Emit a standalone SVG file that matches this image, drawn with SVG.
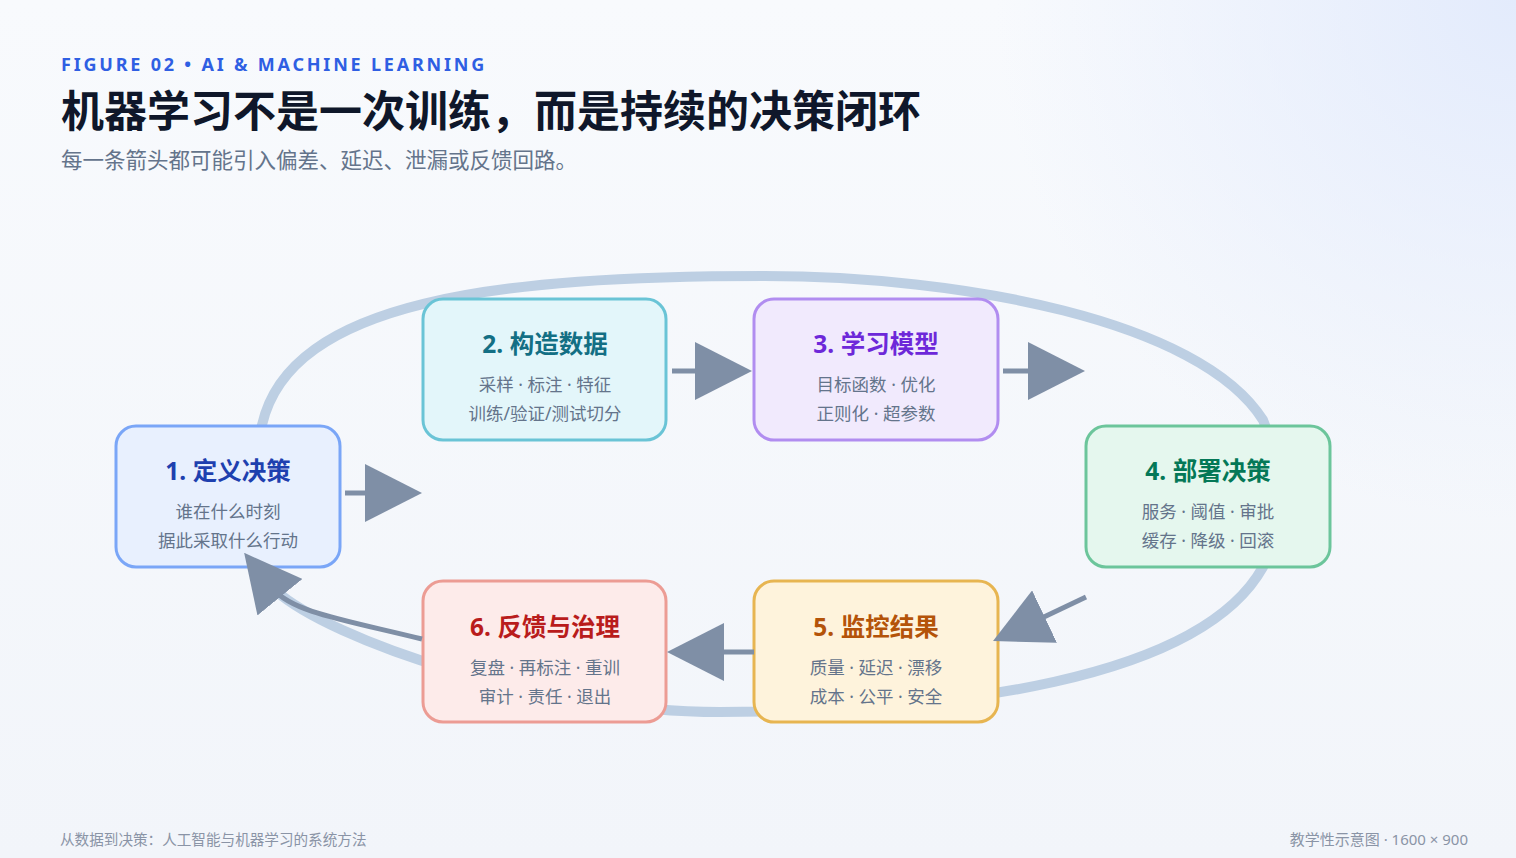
<svg xmlns="http://www.w3.org/2000/svg" width="1516" height="858" viewBox="0 0 1516 858">
  <defs>
    <linearGradient id="bg" x1="0" y1="0" x2="0" y2="1">
      <stop offset="0" stop-color="#f8fafd"/>
      <stop offset="1" stop-color="#f2f5fa"/>
    </linearGradient>
    <radialGradient id="glow" cx="1516" cy="0" r="520" gradientUnits="userSpaceOnUse">
      <stop offset="0" stop-color="#e3ebfc"/>
      <stop offset="1" stop-color="#e3ebfc" stop-opacity="0"/>
    </radialGradient>
    <marker id="ah" viewBox="0 0 57 58" refX="10" refY="29" markerWidth="57" markerHeight="58" markerUnits="userSpaceOnUse" orient="auto">
      <path d="M0,0 L57,29 L0,58 Z" fill="#7f8fa6"/>
    </marker>
    <style>
      .t { font-family: "Noto Sans", "Noto Sans CJK SC", sans-serif; }
      .cjk { font-family: "Noto Sans CJK SC", "Noto Sans", sans-serif; }
      .box { stroke-width: 3; }
      .title { font-size: 24.5px; font-weight: 700; text-anchor: middle; }
      .sub { font-size: 17.5px; fill: #64748b; text-anchor: middle; }
      .conn { fill: none; stroke: #7f8fa6; stroke-width: 5; marker-end: url(#ah); }
      .loop { fill: none; stroke: #bdcfe3; stroke-width: 10; }
    </style>
  </defs>

  <rect x="0" y="0" width="1516" height="858" fill="url(#bg)"/>
  <rect x="0" y="0" width="1516" height="858" fill="url(#glow)"/>

  <g id="header">
    <text class="t" x="61" y="71" font-size="18" font-weight="700" fill="#2f5fe3" letter-spacing="2.8">FIGURE 02 • AI &amp; MACHINE LEARNING</text>
    <text class="cjk" x="61" y="127" font-size="43" font-weight="700" fill="#0f172a">机器学习不是一次训练，而是持续的决策闭环</text>
    <text class="cjk" x="61" y="168" font-size="21.5" fill="#64748b">每一条箭头都可能引入偏差、延迟、泄漏或反馈回路。</text>
  </g>

  <g id="loop">
    <path class="loop" d="M262,425 C290,300 500,276 764,276 C960,276 1200,320 1263,420 C1276,450 1276,537 1263,567 C1200,680 950,712 720,712 C540,712 330,640 275,590 C245,555 245,470 262,425 Z"/>
  </g>

  <g id="node1">
    <rect class="box" x="116" y="426" width="224" height="141" rx="20" fill="#e8f0fe" stroke="#7aa6f7"/>
    <text class="t title" x="228" y="480" fill="#1e40af">1. 定义决策</text>
    <text class="t sub" x="228" y="518">谁在什么时刻</text>
    <text class="t sub" x="228" y="547">据此采取什么行动</text>
  </g>

  <g id="node2">
    <rect class="box" x="423" y="299" width="243" height="141" rx="20" fill="#e3f6fa" stroke="#6ac4d6"/>
    <text class="t title" x="545" y="353" fill="#136f84">2. 构造数据</text>
    <text class="t sub" x="545" y="391">采样 · 标注 · 特征</text>
    <text class="t sub" x="545" y="420">训练/验证/测试切分</text>
  </g>

  <g id="node3">
    <rect class="box" x="754" y="299" width="244" height="141" rx="20" fill="#f1eafd" stroke="#b18df0"/>
    <text class="t title" x="876" y="353" fill="#6d28d9">3. 学习模型</text>
    <text class="t sub" x="876" y="391">目标函数 · 优化</text>
    <text class="t sub" x="876" y="420">正则化 · 超参数</text>
  </g>

  <g id="node4">
    <rect class="box" x="1086" y="426" width="244" height="141" rx="20" fill="#e5f7ee" stroke="#6cc59b"/>
    <text class="t title" x="1208" y="480" fill="#047857">4. 部署决策</text>
    <text class="t sub" x="1208" y="518">服务 · 阈值 · 审批</text>
    <text class="t sub" x="1208" y="547">缓存 · 降级 · 回滚</text>
  </g>

  <g id="node5">
    <rect class="box" x="754" y="581" width="244" height="141" rx="20" fill="#fef3dc" stroke="#e7b551"/>
    <text class="t title" x="876" y="636" fill="#b45309">5. 监控结果</text>
    <text class="t sub" x="876" y="674">质量 · 延迟 · 漂移</text>
    <text class="t sub" x="876" y="703">成本 · 公平 · 安全</text>
  </g>

  <g id="node6">
    <rect class="box" x="423" y="581" width="243" height="141" rx="20" fill="#fdebea" stroke="#ec9c94"/>
    <text class="t title" x="545" y="636" fill="#b91c1c">6. 反馈与治理</text>
    <text class="t sub" x="545" y="674">复盘 · 再标注 · 重训</text>
    <text class="t sub" x="545" y="703">审计 · 责任 · 退出</text>
  </g>

  <g id="connectors">
    <line class="conn" x1="345" y1="493" x2="375" y2="493"/>
    <line class="conn" x1="672" y1="371" x2="705" y2="371"/>
    <line class="conn" x1="1003" y1="371" x2="1038" y2="371"/>
    <line class="conn" x1="1086" y1="597" x2="1035.5" y2="620.9"/>
    <line class="conn" x1="754" y1="652" x2="714" y2="652"/>
    <path class="conn" d="M422,639 C345,620 292,612 273.7,589.4"/>
  </g>

  <g id="footer">
    <text class="cjk" x="60" y="845" font-size="14.6" fill="#8a94a6">从数据到决策：人工智能与机器学习的系统方法</text>
    <text class="t" x="1468" y="845" font-size="15" fill="#8a94a6" text-anchor="end">教学性示意图 · 1600 × 900</text>
  </g>
</svg>
